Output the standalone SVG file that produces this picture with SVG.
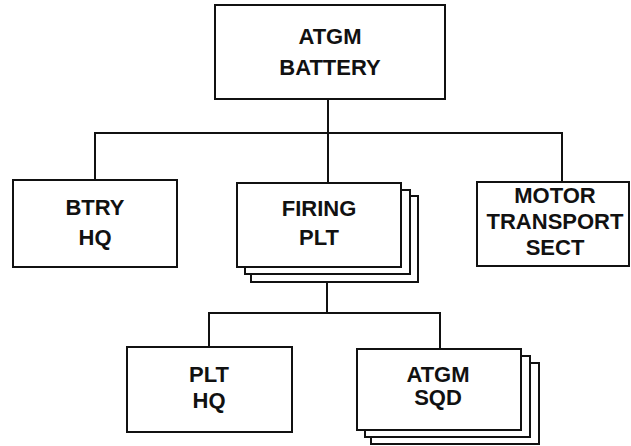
<svg xmlns="http://www.w3.org/2000/svg" width="631" height="446" viewBox="0 0 631 446">
<style>
.box{fill:#fff;stroke:#111;stroke-width:2}
.ln{fill:none;stroke:#111;stroke-width:2}
text{font-family:"Liberation Sans",Arial,sans-serif;font-weight:bold;font-size:22px;fill:#111;text-anchor:middle}
</style>
<rect width="631" height="446" fill="#fff"/>
<g id="connectors">
<line class="ln" x1="328" y1="100" x2="328" y2="183"/>
<polyline class="ln" points="95,180 95,133 562,133 562,182"/>
<line class="ln" x1="327" y1="282" x2="327" y2="313"/>
<polyline class="ln" points="209,347 209,313 440,313 440,349"/>
</g>
<g id="atgm-battery">
<rect class="box" x="215" y="5" width="230" height="94"/>
<text x="330" y="44" font-size="23">ATGM</text>
<text x="330" y="75" font-size="23">BATTERY</text>
</g>
<g id="btry-hq">
<rect class="box" x="13" y="180" width="164" height="87"/>
<text x="95" y="215">BTRY</text>
<text x="95" y="245">HQ</text>
</g>
<g id="firing-plt">
<rect class="box" x="251" y="196" width="167" height="86"/>
<rect class="box" x="245" y="190" width="165" height="84"/>
<rect class="box" x="237" y="183" width="164" height="84"/>
<text x="319" y="216">FIRING</text>
<text x="319" y="245">PLT</text>
</g>
<g id="motor-transport-sect">
<rect class="box" x="477" y="182" width="152" height="84"/>
<text x="555" y="203">MOTOR</text>
<text x="555" y="229">TRANSPORT</text>
<text x="555" y="255">SECT</text>
</g>
<g id="plt-hq">
<rect class="box" x="127" y="347" width="165" height="85"/>
<text x="209" y="382">PLT</text>
<text x="209" y="408">HQ</text>
</g>
<g id="atgm-sqd">
<rect class="box" x="371" y="363" width="168" height="81"/>
<rect class="box" x="365" y="356" width="165" height="81"/>
<rect class="box" x="357" y="349" width="164" height="81"/>
<text x="438" y="382">ATGM</text>
<text x="438" y="405">SQD</text>
</g>
</svg>
